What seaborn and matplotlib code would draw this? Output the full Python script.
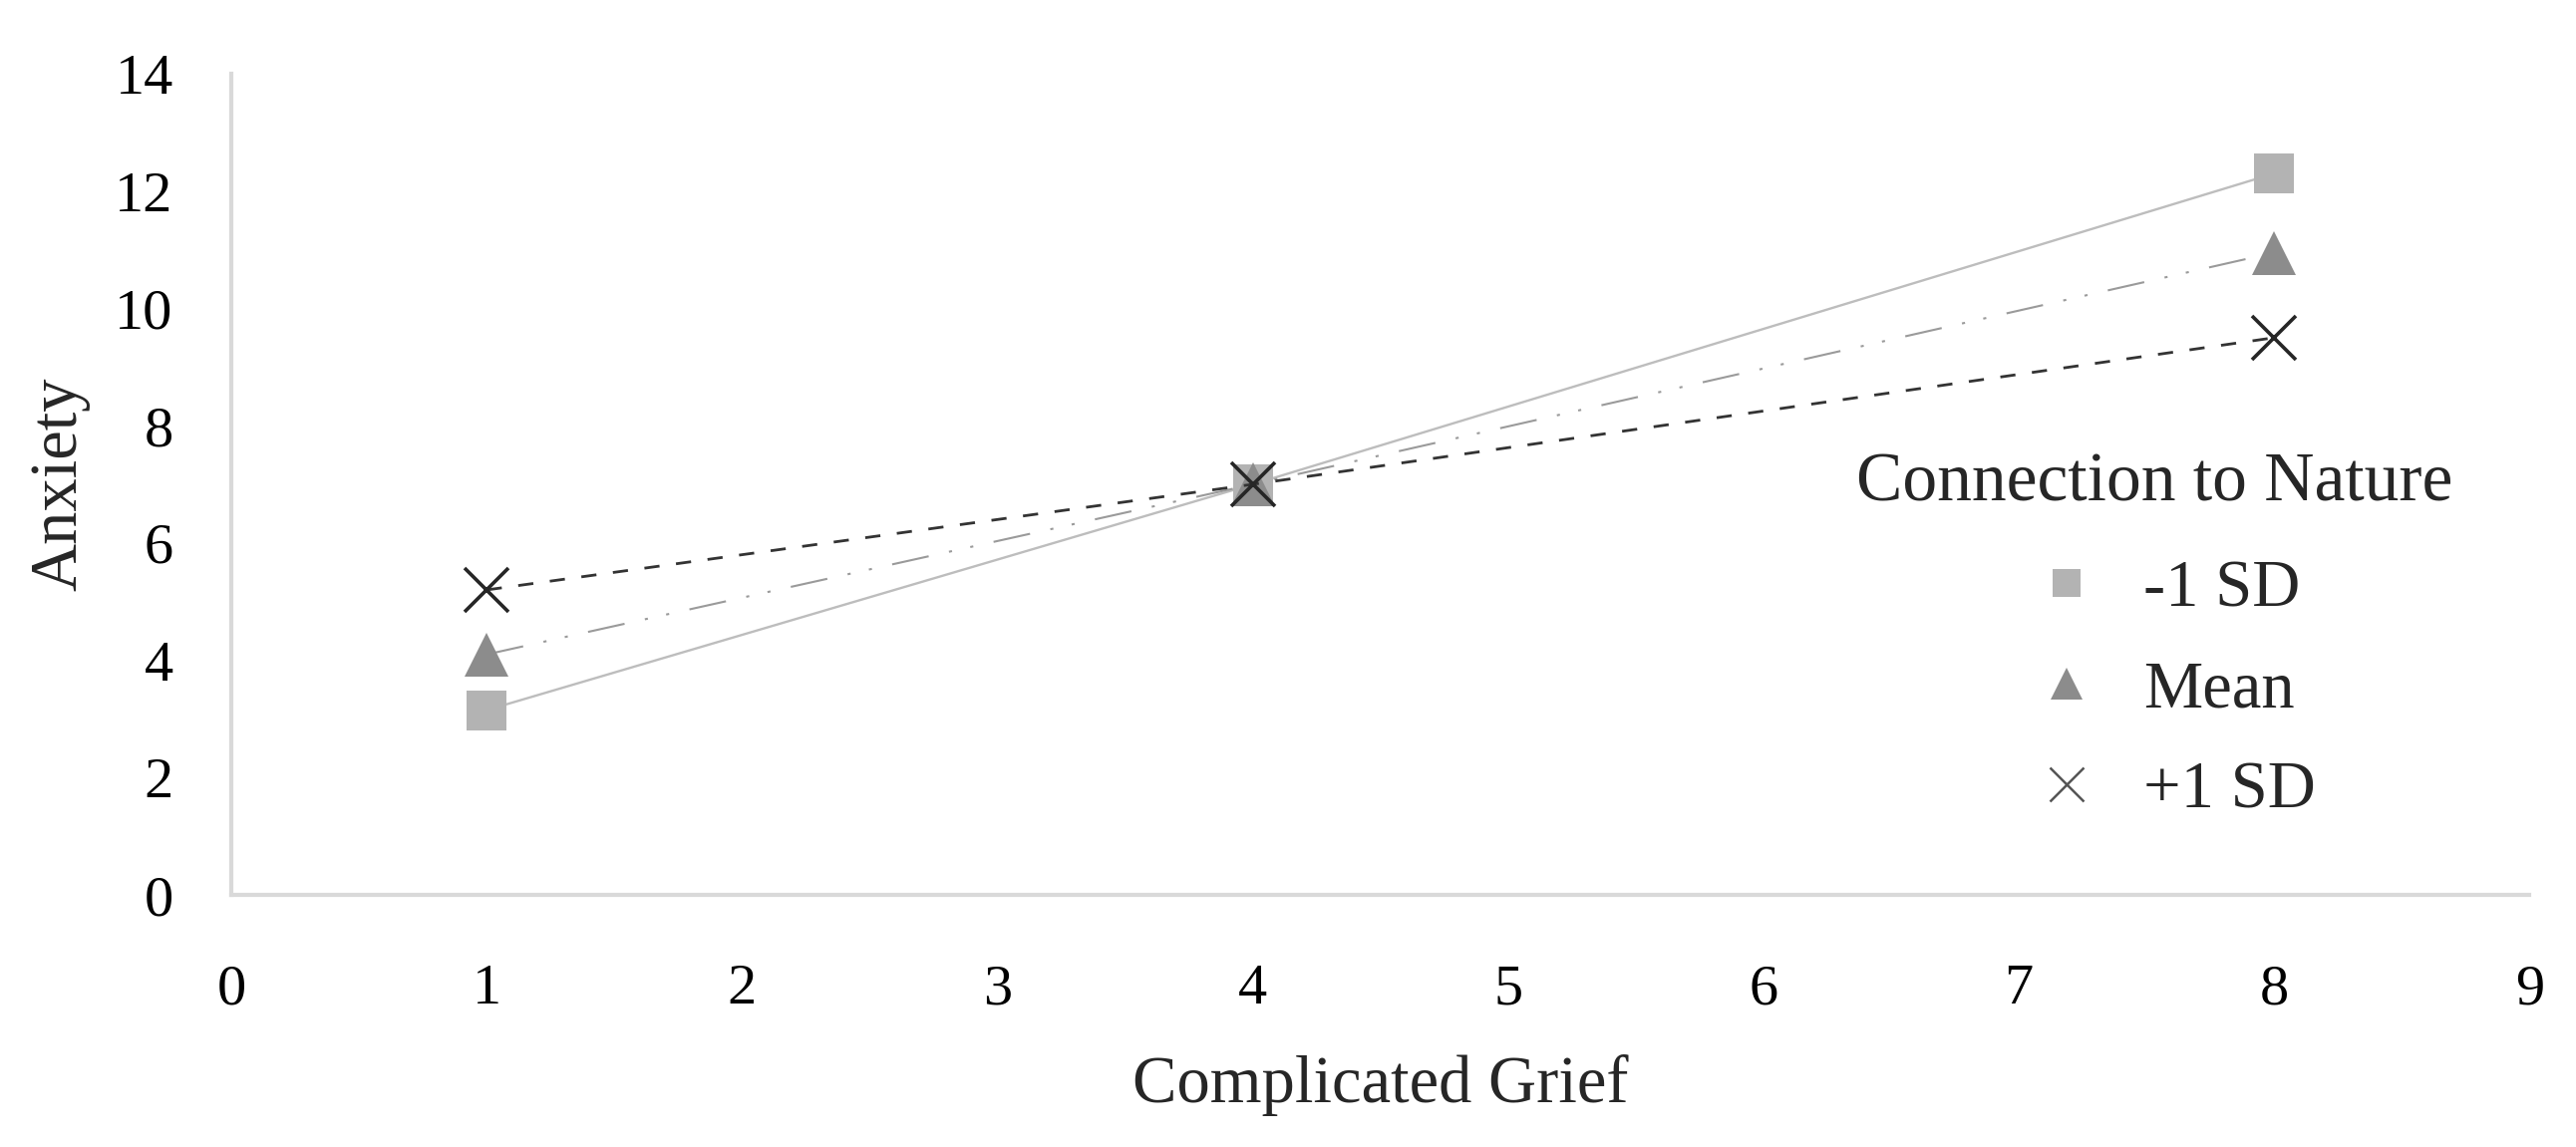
import numpy as np
import pandas as pd
import matplotlib
matplotlib.use('Agg')
import matplotlib.pyplot as plt
from matplotlib.lines import Line2D
import seaborn as sns

# значения
groups = ['-1 SD', 'Mean', '+1 SD']
grief = [1, 4, 8]
anxiety_low = [3.15, 7.0, 12.3]
anxiety_mean = [4.1, 7.0, 10.95]
anxiety_high = [5.2, 7.0, 9.5]

df = pd.DataFrame({
    'grief': grief * 3,
    'anxiety': anxiety_low + anxiety_mean + anxiety_high,
    'group': [g for g in groups for _ in grief],
})

sns.set_style('white')
plt.rcParams['font.family'] = ['Liberation Serif', 'DejaVu Serif']

styles = {
    '-1 SD': dict(line='#bdbdbd', color='#b3b3b3', marker='s', lw=1.7, dashes=None, ms=29, lms=20),
    'Mean': dict(line='#9a9a9a', color='#8c8c8c', marker='^', lw=1.5, dashes=(18, 10, 1.5, 9, 1.5, 10), ms=32, lms=23),
    '+1 SD': dict(line='#333333', color='#262626', marker='x', lw=2.0, dashes=(5.5, 6), ms=32, lms=24),
}

fig, ax = plt.subplots(figsize=(25.84, 11.51), dpi=100)
fig.subplots_adjust(left=0.0898, right=0.982, bottom=0.2198, top=0.9357)

for g in groups:
    s = styles[g]
    kw = dict(marker=s['marker'], markersize=s['ms'], linewidth=s['lw'],
              markeredgecolor=s['color'], markerfacecolor=s['color'])
    kw['markeredgewidth'] = 2.6 if s['marker'] == 'x' else 0
    if s['dashes'] is not None:
        kw['dashes'] = s['dashes']
    sns.lineplot(data=df[df['group'] == g], x='grief', y='anxiety', color=s['line'],
                 ax=ax, legend=False, **kw)

ax.set_xlim(0, 9)
ax.set_ylim(0, 14)
ax.set_xticks(range(0, 10))
ax.set_yticks(range(0, 15, 2))
ax.tick_params(axis='both', length=0, labelsize=42, colors='black')
ax.tick_params(axis='x', pad=50)
ax.tick_params(axis='y', pad=42)
for sp in ['top', 'right']:
    ax.spines[sp].set_visible(False)
for sp in ['left', 'bottom']:
    ax.spines[sp].set_color('#d9d9d9')
    ax.spines[sp].set_linewidth(3)
ax.set_xlabel('Complicated Grief', fontsize=48, labelpad=28)
ax.set_ylabel('Anxiety', fontsize=48, labelpad=18)

# легенда
fig.text(1862 / 2584, 1 - 486 / 1151, 'Connection to Nature', fontsize=50, va='center', ha='left')
handles = [Line2D([], [], linestyle='none', marker=styles[g]['marker'], color=styles[g]['color'],
                  markersize=styles[g]['lms'],
                  markeredgecolor='#555555' if styles[g]['marker'] == 'x' else styles[g]['color'],
                  markeredgewidth=1.8 if styles[g]['marker'] == 'x' else 0)
           for g in groups]
fig.legend(handles, groups, loc='center left', bbox_to_anchor=(2033 / 2584, 1 - 693 / 1151),
           frameon=False, fontsize=48, handletextpad=0.55, labelspacing=0.6, handlelength=1.2,
           borderpad=0, borderaxespad=0)

fig.savefig('out.png', dpi=100)
